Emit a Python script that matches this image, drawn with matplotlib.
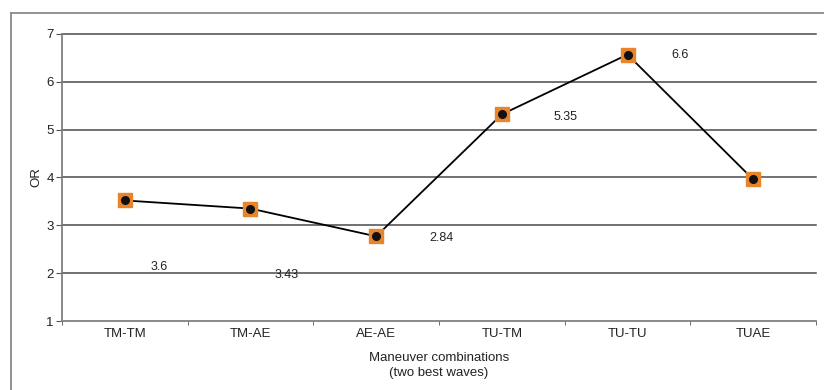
import matplotlib
matplotlib.use("Agg")
import matplotlib.pyplot as plt
from matplotlib.lines import Line2D
from matplotlib.ticker import FixedLocator

categories = ["TM-TM", "TM-AE", "AE-AE", "TU-TM", "TU-TU", "TUAE"]
or_values = [3.52, 3.35, 2.77, 5.32, 6.57, 3.96]
value_labels = ["3.6", "3.43", "2.84", "5.35", "6.6", ""]
y_ticks = [1, 2, 3, 4, 5, 6, 7]

# label offsets in points (layout only)
label_offsets = [(25, -48), (26, -48), (47, -1), (46, -2), (38, 0), (0, 0)]

plt.rcParams['font.family'] = ['Liberation Sans Narrow', 'Liberation Sans', 'DejaVu Sans']

fig = plt.figure(figsize=(8.24, 3.90), dpi=100)
fig.patch.set_facecolor("white")
# outer frame (left and top edges only visible)
fx, fy = 10.5 / 824, 1 - 12.5 / 390
fig.lines.append(Line2D([fx, fx], [0, fy], transform=fig.transFigure,
                        color="#8a8a8a", linewidth=1.3))
fig.lines.append(Line2D([fx, 1], [fy, fy], transform=fig.transFigure,
                        color="#8a8a8a", linewidth=1.3))

ax = fig.add_axes([62/824, 1 - 321/390, (816 - 62)/824, (321 - 34)/390])
x = list(range(len(categories)))

ax.set_xlim(-0.5, len(categories) - 0.5)
ax.set_ylim(1, 7)
ax.set_yticks(y_ticks)
for t in y_ticks[1:]:
    ax.axhline(t, color="#4a4a4a", linewidth=1.1, zorder=1, clip_on=False)

ax.plot(x, or_values, color="black", linewidth=1.3, zorder=3)
ax.plot(x, or_values, linestyle="none", marker="s", markersize=10.5,
        markerfacecolor="#E8842A", markeredgecolor="#E8842A", zorder=4)
ax.plot(x, or_values, linestyle="none", marker="o", markersize=5.5,
        markerfacecolor="#111111", markeredgecolor="#111111", zorder=5)

for xi, yi, lab, off in zip(x, or_values, value_labels, label_offsets):
    if lab:
        ax.annotate(lab, (xi, yi), xytext=off, textcoords="offset points",
                    ha="center", va="center", fontsize=9, color="#222222")

ax.set_xticks(x)
ax.set_xticklabels(categories, fontsize=9.5, color="#222222")
ax.xaxis.set_minor_locator(FixedLocator([i - 0.5 for i in range(len(categories) + 1)]))
ax.tick_params(axis="x", which="major", length=0, pad=5)
ax.tick_params(axis="x", which="minor", length=3, direction="out", color="#555555")
ax.tick_params(axis="y", length=4, direction="out", color="#555555", labelsize=9.5,
               labelcolor="#222222", pad=2)

for s in ["top", "right"]:
    ax.spines[s].set_visible(False)
ax.spines["left"].set_color("#808080")
ax.spines["left"].set_linewidth(1.3)
ax.spines["bottom"].set_color("#808080")
ax.spines["bottom"].set_linewidth(1.3)

ax.set_ylabel("OR", fontsize=9.5, color="#222222", labelpad=3)
ax.set_xlabel("Maneuver combinations\n(two best waves)", fontsize=9.5, color="#222222",
              labelpad=9, linespacing=1.25)

fig.savefig("out.png", dpi=100)
